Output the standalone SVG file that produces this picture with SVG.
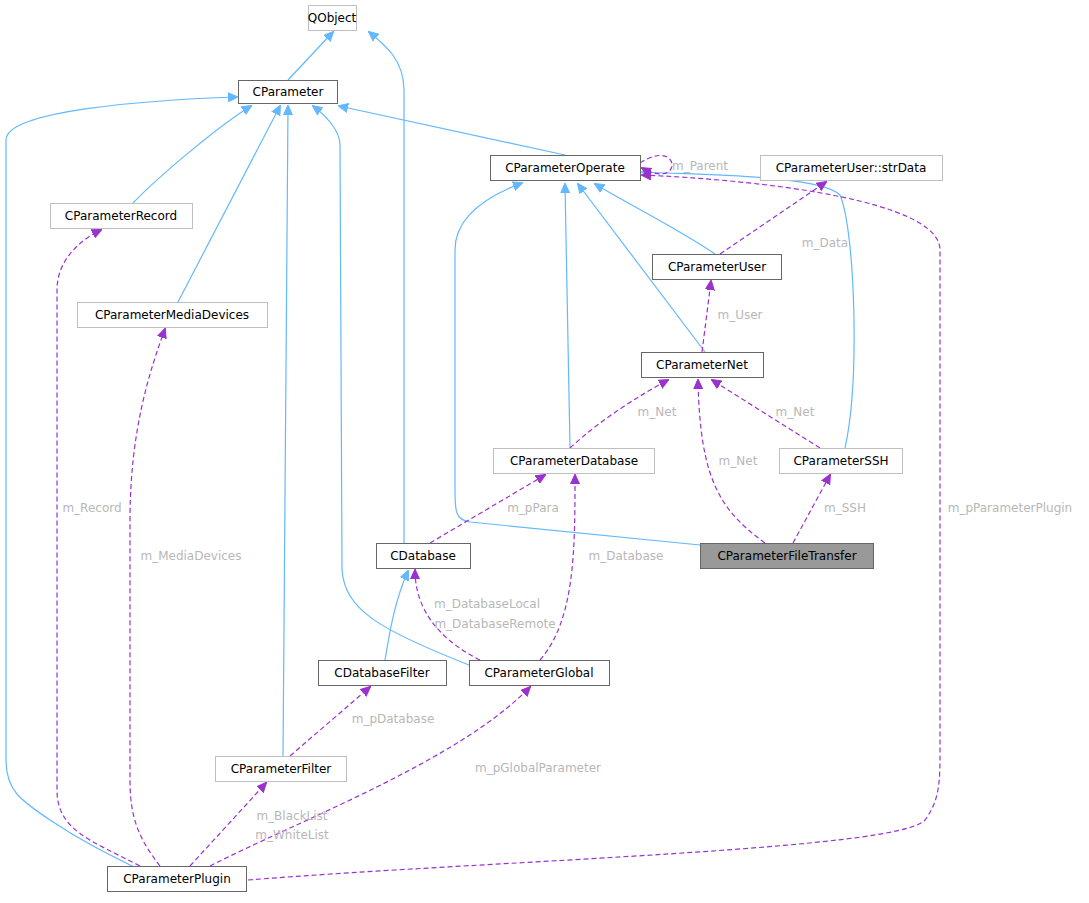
<svg xmlns="http://www.w3.org/2000/svg" width="1089" height="903" viewBox="0 0 1089 903">
<defs>
<style>
.n rect{fill:#fff;stroke:#666;stroke-width:1}
.g rect{stroke:#bfbfbf}
.n text{font-family:"DejaVu Sans",sans-serif;font-size:12px;fill:#000;text-anchor:middle}
.b{fill:none;stroke:#63b8ff;stroke-width:1.2}
.p{fill:none;stroke:#9a32cd;stroke-width:1.2;stroke-dasharray:5,3}
.l{font-family:"DejaVu Sans",sans-serif;font-size:12px;fill:#b8b8b8;text-anchor:middle}
</style>
<marker id="ab" markerWidth="10" markerHeight="10" refX="9" refY="5" orient="auto" markerUnits="userSpaceOnUse"><path d="M0,0.5 L10,5 L0,9.5z" fill="#63b8ff" stroke="#63b8ff"/></marker>
<marker id="ap" markerWidth="10" markerHeight="10" refX="9" refY="5" orient="auto" markerUnits="userSpaceOnUse"><path d="M0,0.5 L10,5 L0,9.5z" fill="#9a32cd" stroke="#9a32cd"/></marker>
</defs>
<rect width="1089" height="903" fill="#fff"/>
<g id="edges">
<path class="b" marker-end="url(#ab)" d="M288,80 L333,32"/>
<path class="b" marker-end="url(#ab)" d="M404,543 L404,90 C404,60 385,45 369,32"/>
<path class="b" marker-end="url(#ab)" d="M565,155 L339,106"/>
<path class="b" marker-end="url(#ab)" d="M133,203 C160,175 220,125 251,106"/>
<path class="b" marker-end="url(#ab)" d="M178,302 L280,106"/>
<path class="b" marker-end="url(#ab)" d="M283,756 L288,106"/>
<path class="b" marker-end="url(#ab)" d="M469,665 C380,630 345,610 342,570 L340,145 C340,130 325,115 313,106"/>
<path class="b" marker-end="url(#ab)" d="M140,870 C100,850 80,840 50,820 C20,800 6,790 6,760 L6,140 C6,110 150,100 237,97"/>
<path class="b" marker-end="url(#ab)" d="M715,254 C680,230 630,205 595,184"/>
<path class="b" marker-end="url(#ab)" d="M705,352 L578,184"/>
<path class="b" marker-end="url(#ab)" d="M570,448 L565,184"/>
<path class="b" marker-end="url(#ab)" d="M845,448 C860,380 855,230 840,195 C820,175 700,175 642,172"/>
<path class="b" marker-end="url(#ab)" d="M700,545 L470,522 C455,520 455,510 455,490 L455,250 C455,215 490,195 522,183"/>
<path class="b" marker-end="url(#ab)" d="M385,660 C390,630 395,600 408,571"/>
<path class="p" marker-end="url(#ap)" d="M640,163 C660,150 672,156 672,165 C672,174 660,178 642,168"/>
<path class="p" marker-end="url(#ap)" d="M720,254 L826,182"/>
<path class="p" marker-end="url(#ap)" d="M702,352 L711,281"/>
<path class="p" marker-end="url(#ap)" d="M570,448 C600,420 640,395 668,380"/>
<path class="p" marker-end="url(#ap)" d="M820,448 L712,380"/>
<path class="p" marker-end="url(#ap)" d="M765,543 C720,510 700,480 698,380"/>
<path class="p" marker-end="url(#ap)" d="M793,543 L830,475"/>
<path class="p" marker-end="url(#ap)" d="M430,543 L545,475"/>
<path class="p" marker-end="url(#ap)" d="M540,660 C575,620 575,550 575,475"/>
<path class="p" marker-end="url(#ap)" d="M480,660 C440,640 415,610 415,570"/>
<path class="p" marker-end="url(#ap)" d="M140,866 C90,840 57,830 57,790 L57,290 C57,260 80,240 101,230"/>
<path class="p" marker-end="url(#ap)" d="M160,866 C140,840 130,820 130,780 L130,520 C130,430 150,370 165,329"/>
<path class="p" marker-end="url(#ap)" d="M190,866 L266,783"/>
<path class="p" marker-end="url(#ap)" d="M210,866 C300,820 460,760 530,687"/>
<path class="p" marker-end="url(#ap)" d="M248,880 C500,860 900,850 925,820 C940,800 940,780 940,750 L940,250 C940,200 760,180 642,175"/>
<path class="p" marker-end="url(#ap)" d="M290,756 L370,687"/>
</g>
<g class="l">
<text x="700" y="170">m_Parent</text>
<text x="825" y="247">m_Data</text>
<text x="740" y="319">m_User</text>
<text x="657" y="416">m_Net</text>
<text x="795" y="416">m_Net</text>
<text x="738" y="465">m_Net</text>
<text x="845" y="512">m_SSH</text>
<text x="533" y="512">m_pPara</text>
<text x="626" y="560">m_Database</text>
<text x="487" y="608">m_DatabaseLocal</text>
<text x="495" y="628">m_DatabaseRemote</text>
<text x="92" y="512">m_Record</text>
<text x="191" y="560">m_MediaDevices</text>
<text x="393" y="723">m_pDatabase</text>
<text x="538" y="772">m_pGlobalParameter</text>
<text x="292" y="820">m_BlackList</text>
<text x="292" y="839">m_WhiteList</text>
<text x="1010" y="512">m_pParameterPlugin</text>
</g>
<g id="QObject" class="n g"><rect x="308.5" y="5.5" width="48" height="25"/><text x="332" y="22">QObject</text></g>
<g id="CParameter" class="n"><rect x="238.5" y="80.5" width="99" height="23"/><text x="288" y="96">CParameter</text></g>
<g id="CParameterOperate" class="n"><rect x="490.5" y="155.5" width="150" height="25"/><text x="565" y="172">CParameterOperate</text></g>
<g id="strData" class="n g"><rect x="760.5" y="155.5" width="182" height="25"/><text x="851" y="172">CParameterUser::strData</text></g>
<g id="CParameterRecord" class="n g"><rect x="50.5" y="203.5" width="142" height="25"/><text x="121" y="220">CParameterRecord</text></g>
<g id="CParameterUser" class="n"><rect x="652.5" y="254.5" width="129" height="25"/><text x="717" y="271">CParameterUser</text></g>
<g id="CParameterMediaDevices" class="n g"><rect x="77.5" y="302.5" width="190" height="25"/><text x="172" y="319">CParameterMediaDevices</text></g>
<g id="CParameterNet" class="n"><rect x="641.5" y="352.5" width="122" height="25"/><text x="702" y="369">CParameterNet</text></g>
<g id="CParameterDatabase" class="n g"><rect x="493.5" y="448.5" width="161" height="25"/><text x="574" y="465">CParameterDatabase</text></g>
<g id="CParameterSSH" class="n g"><rect x="779.5" y="448.5" width="123" height="25"/><text x="841" y="465">CParameterSSH</text></g>
<g id="CDatabase" class="n"><rect x="376.5" y="543.5" width="94" height="25"/><text x="423" y="560">CDatabase</text></g>
<g id="CParameterFileTransfer" class="n"><rect x="700.5" y="543.5" width="173" height="25" style="fill:#999"/><text x="787" y="560">CParameterFileTransfer</text></g>
<g id="CDatabaseFilter" class="n"><rect x="318.5" y="660.5" width="128" height="25"/><text x="382" y="677">CDatabaseFilter</text></g>
<g id="CParameterGlobal" class="n"><rect x="469.5" y="660.5" width="140" height="25"/><text x="539" y="677">CParameterGlobal</text></g>
<g id="CParameterFilter" class="n g"><rect x="215.5" y="756.5" width="131" height="25"/><text x="281" y="773">CParameterFilter</text></g>
<g id="CParameterPlugin" class="n"><rect x="107.5" y="866.5" width="139" height="25"/><text x="177" y="883">CParameterPlugin</text></g>
</svg>
